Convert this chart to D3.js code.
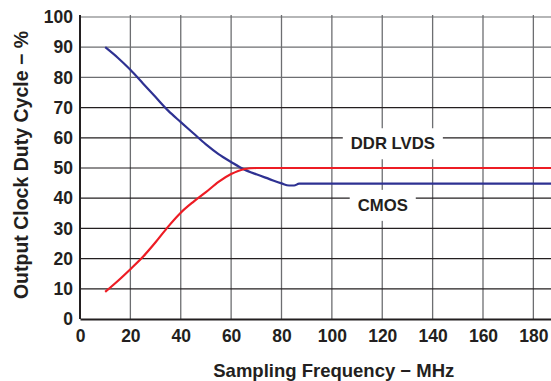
<!DOCTYPE html>
<html>
<head>
<meta charset="utf-8">
<script src="https://cdn.jsdelivr.net/npm/d3@7"></script>
<style>
  body { margin: 0; background: #fff; }
  text { font-family: "Liberation Sans", Arial, sans-serif; font-weight: bold; fill: #231f20; }
</style>
</head>
<body>
<div id="graph-container"></div>
<script>
// chart values
var xTicks = [0, 20, 40, 60, 80, 100, 120, 140, 160, 180];
var yTicks = [0, 10, 20, 30, 40, 50, 60, 70, 80, 90, 100];

var cmosFreq = [10, 15, 20, 25, 30, 35, 40, 45, 50, 55, 60, 65, 70, 75, 80, 83, 85, 87, 90, 187];
var cmosDuty = [90, 86.5, 82.5, 78, 73.5, 69, 65.2, 61.5, 57.8, 54.6, 52, 49.6, 47.9, 46.4, 44.9, 44.2, 44.2, 44.8, 44.8, 44.8];

var lvdsFreq = [10, 15, 20, 25, 30, 35, 40, 45, 50, 55, 60, 65, 70, 187];
var lvdsDuty = [9, 12.6, 16.5, 20.6, 25.4, 30.6, 35.2, 38.8, 42, 45.4, 48, 49.6, 50, 50];

var labelText = ["DDR LVDS", "CMOS"];
var labelFreq = [124.2, 120.2];
var labelDuty = [58.2, 37.8];

var svg, x, y, margin, width, height;

function setup() {
  margin = {top: 17, right: 0, bottom: 62, left: 80};
  width = 551 - margin.left - margin.right;
  height = 381 - margin.top - margin.bottom;

  x = d3.scaleLinear().domain([0, 187]).range([0, width]);
  y = d3.scaleLinear().domain([0, 100]).range([height, 0]);

  svg = d3.select("#graph-container").append("svg")
    .attr("width", 551)
    .attr("height", 381)
    .append("g")
    .attr("transform", "translate(" + margin.left + "," + margin.top + ")");
}

function draw() {
  // vertical grid
  svg.append("g")
    .selectAll("line")
    .data(xTicks.slice(1))
    .enter().append("line")
    .attr("x1", function(d) { return x(d); })
    .attr("x2", function(d) { return x(d); })
    .attr("y1", y(100) - 2)
    .attr("y2", y(0))
    .style("stroke", "#6d6e71")
    .style("stroke-width", 1.3);

  // horizontal grid
  svg.append("g")
    .selectAll("line")
    .data(yTicks.slice(1))
    .enter().append("line")
    .attr("x1", 0)
    .attr("x2", width)
    .attr("y1", function(d) { return y(d); })
    .attr("y2", function(d) { return y(d); })
    .style("stroke", function(d) { return d >= 80 ? "#6d6e71" : "#231f20"; })
    .style("stroke-width", 1.2);

  // curve labels, white box breaks the grid
  var lab = svg.append("g").selectAll("g")
    .data(labelText)
    .enter().append("g")
    .attr("transform", function(d, i) {
      return "translate(" + x(labelFreq[i]) + "," + y(labelDuty[i]) + ")";
    });
  lab.append("text")
    .attr("text-anchor", "middle")
    .attr("dy", "0.36em")
    .style("font-size", "16.7px")
    .text(function(d) { return d; });
  lab.each(function() {
    var g = d3.select(this);
    var b = g.select("text").node().getBBox();
    g.insert("rect", "text")
      .attr("x", b.x - 8)
      .attr("y", b.y - 6)
      .attr("width", b.width + 16)
      .attr("height", b.height + 12)
      .style("fill", "#fff");
  });

  var line = d3.line()
    .curve(d3.curveMonotoneX)
    .x(function(d) { return x(d[0]); })
    .y(function(d) { return y(d[1]); });

  svg.append("path")
    .datum(cmosFreq.map(function(f, i) { return [f, cmosDuty[i]]; }))
    .attr("d", line)
    .style("fill", "none")
    .style("stroke", "#2e3192")
    .style("stroke-width", 2.2);

  svg.append("path")
    .datum(lvdsFreq.map(function(f, i) { return [f, lvdsDuty[i]]; }))
    .attr("d", line)
    .style("fill", "none")
    .style("stroke", "#ed1c24")
    .style("stroke-width", 2.2);

  // axes
  var xAxis = svg.append("g")
    .attr("transform", "translate(0," + height + ")")
    .call(d3.axisBottom(x).tickValues(xTicks).tickSize(0).tickPadding(11));
  xAxis.select(".domain").style("stroke", "#231f20").style("stroke-width", 2);
  xAxis.selectAll("text").style("font-size", "17.5px");

  var yAxis = svg.append("g")
    .call(d3.axisLeft(y).tickValues(yTicks).tickSize(0).tickPadding(7));
  yAxis.select(".domain").attr("d", "M0," + (y(100) - 2) + "V" + height)
    .style("stroke", "#231f20").style("stroke-width", 2);
  yAxis.selectAll("text").style("font-size", "17.5px");

  // titles
  svg.append("text")
    .attr("x", 333.8 - margin.left)
    .attr("y", 377 - margin.top)
    .attr("text-anchor", "middle")
    .style("font-size", "18.5px")
    .text("Sampling Frequency \u2212 MHz");

  svg.append("text")
    .attr("transform", "translate(" + (28 - margin.left) + "," + (165 - margin.top) + ") rotate(-90)")
    .attr("text-anchor", "middle")
    .style("font-size", "19.5px")
    .text("Output Clock Duty Cycle \u2212 %");
}

setup();
draw();
</script>
</body>
</html>
